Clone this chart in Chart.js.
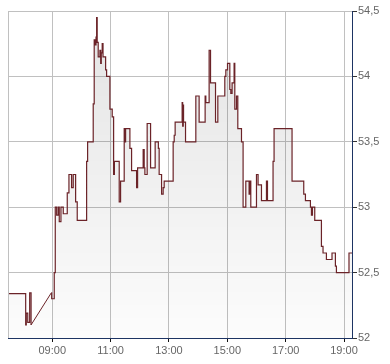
<!DOCTYPE html>
<html>
<head>
<meta charset="utf-8">
<script src="https://cdn.jsdelivr.net/npm/chart.js@4/dist/chart.umd.min.js"></script>
<style>
  html, body { margin: 0; padding: 0; background: #fff; }
  #wrap { width: 390px; height: 364px; position: relative; }
</style>
</head>
<body>
<div id="wrap"><canvas id="c" width="390" height="364"></canvas></div>
<script>
// ---- data (hours of day, price) ----
const openTimes  = [7.483, 8.089, 8.110, 8.160, 8.226, 8.274];
const openPrices = [52.34, 52.10, 52.19, 52.12, 52.345, 52.10];

const gapTimes  = [8.274, 8.966];
const gapPrices = [52.10, 52.345];

const times = [
  8.966, 8.980, 9.068, 9.103, 9.151, 9.205, 9.240, 9.298, 9.377, 9.514,
  9.572, 9.664, 9.719, 9.801, 9.856, 10.178, 10.212, 10.404, 10.438, 10.470,
  10.500, 10.521, 10.540, 10.575, 10.634, 10.660, 10.680, 10.712, 10.740, 10.829,
  10.863, 10.976, 11.055, 11.103, 11.130, 11.295, 11.342, 11.466, 11.480, 11.514,
  11.661, 11.719, 11.890, 11.925, 12.116, 12.151, 12.175, 12.253, 12.370, 12.527,
  12.637, 12.664, 12.747, 12.801, 12.836, 13.144, 13.180, 13.212, 13.452, 13.470,
  13.490, 13.500, 13.568, 13.921, 14.034, 14.240, 14.264, 14.377, 14.425, 14.596,
  14.675, 14.914, 14.949, 15.007, 15.086, 15.120, 15.164, 15.233, 15.257, 15.315,
  15.360, 15.486, 15.541, 15.634, 15.747, 15.780, 15.805, 16.000, 16.055, 16.171,
  16.342, 16.377, 16.568, 16.603, 17.219, 17.620, 17.678, 17.849, 17.884, 17.918,
  17.997, 18.226, 18.281, 18.397, 18.589, 18.705, 18.740, 19.171, 19.274
];
const prices = [
  52.345, 52.30, 52.50, 53.00, 52.94, 53.00, 52.89, 53.00, 52.95, 53.11,
  53.25, 53.15, 53.25, 53.04, 52.90, 53.35, 53.50, 53.79, 54.28, 54.24,
  54.30, 54.45, 54.26, 54.15, 54.20, 54.10, 54.18, 54.25, 54.15, 54.05,
  54.00, 53.75, 53.69, 53.25, 53.35, 53.04, 53.20, 53.60, 53.50, 53.60,
  53.45, 53.28, 53.15, 53.30, 53.44, 53.30, 53.25, 53.64, 53.30, 53.50,
  53.45, 53.25, 53.10, 53.15, 53.20, 53.50, 53.55, 53.65, 53.80, 53.62,
  53.78, 53.65, 53.50, 53.85, 53.65, 53.85, 53.80, 54.20, 53.95, 53.65,
  53.85, 54.00, 54.05, 54.10, 53.90, 53.87, 53.95, 54.10, 53.75, 53.85,
  53.60, 53.50, 53.00, 53.20, 53.10, 53.20, 53.00, 53.25, 53.17, 53.05,
  53.20, 53.05, 53.35, 53.60, 53.20, 53.10, 53.05, 53.00, 52.94, 53.00,
  52.90, 52.70, 52.65, 52.60, 52.65, 52.55, 52.50, 52.65, 52.65
];

const xTickHours  = [9, 11, 13, 15, 17, 19];
const xTickLabels = ['09:00', '11:00', '13:00', '15:00', '17:00', '19:00'];
const xMin = 7.483, xMax = 19.274;
const yMin = 52, yMax = 54.5, yStep = 0.5;

// ---- build ----
const mainData = openTimes.map((t, i) => ({ x: t, y: openPrices[i] }))
  .concat([{ x: (openTimes[openTimes.length - 1] + gapTimes[1]) / 2, y: null }])
  .concat(times.map((t, i) => ({ x: t, y: prices[i] })));
const gapData = gapTimes.map((t, i) => ({ x: t, y: gapPrices[i] }));

const LINE = '#6b2328';
function fillGrad(ctx) {
  const chart = ctx.chart;
  const a = chart.chartArea;
  if (!a) return 'rgba(0,0,0,0.05)';
  const g = chart.ctx.createLinearGradient(0, a.top, 0, a.bottom);
  g.addColorStop(0, 'rgba(0,0,0,0.11)');
  g.addColorStop(1, 'rgba(0,0,0,0.01)');
  return g;
}

const framePlugin = {
  id: 'frame',
  afterDatasetsDraw(chart) {
    const { ctx, chartArea: a } = chart;
    ctx.save();
    ctx.strokeStyle = '#c0c0c0';
    ctx.lineWidth = 1;
    ctx.beginPath();
    const x = Math.round(a.left) + 0.5;
    ctx.moveTo(x, a.top);
    ctx.lineTo(x, a.bottom);
    ctx.stroke();
    ctx.restore();
  }
};

new Chart(document.getElementById('c'), {
  type: 'line',
  data: {
    datasets: [
      {
        data: mainData,
        stepped: 'before',
        borderColor: LINE,
        borderWidth: 1.2,
        pointRadius: 0,
        fill: 'start',
        backgroundColor: fillGrad,
        spanGaps: false
      },
      {
        data: gapData,
        stepped: false,
        borderColor: LINE,
        borderWidth: 1,
        pointRadius: 0,
        fill: 'start',
        backgroundColor: fillGrad
      }
    ]
  },
  options: {
    responsive: false,
    animation: false,
    layout: { padding: { left: 8, top: 11, right: 0, bottom: 0 } },
    plugins: { legend: { display: false }, tooltip: { enabled: false } },
    scales: {
      x: {
        type: 'linear',
        min: xMin,
        max: xMax,
        afterBuildTicks(scale) { scale.ticks = xTickHours.map(v => ({ value: v })); },
        afterFit(scale) { scale.height = 26; },
        grid: { color: '#c0c0c0', tickColor: '#111', tickLength: 4, drawTicks: true },
        border: { color: '#1d3463', width: 1 },
        ticks: {
          autoSkip: false,
          maxRotation: 0,
          padding: 2,
          color: '#666',
          font: { family: 'Liberation Sans, Arial, sans-serif', size: 11 },
          callback: (v) => { const i = xTickHours.indexOf(v); return i >= 0 ? xTickLabels[i] : ''; }
        }
      },
      y: {
        position: 'right',
        min: yMin,
        max: yMax,
        afterFit(scale) { scale.width = 38; },
        grid: { color: '#c0c0c0', tickColor: '#333', tickLength: 5, drawTicks: true },
        border: { color: '#1d3463', width: 1 },
        ticks: {
          stepSize: yStep,
          padding: 1,
          color: '#666',
          font: { family: 'Liberation Sans, Arial, sans-serif', size: 11 },
          callback: (v) => String(v).replace('.', ',')
        }
      }
    }
  },
  plugins: [framePlugin]
});
</script>
</body>
</html>
